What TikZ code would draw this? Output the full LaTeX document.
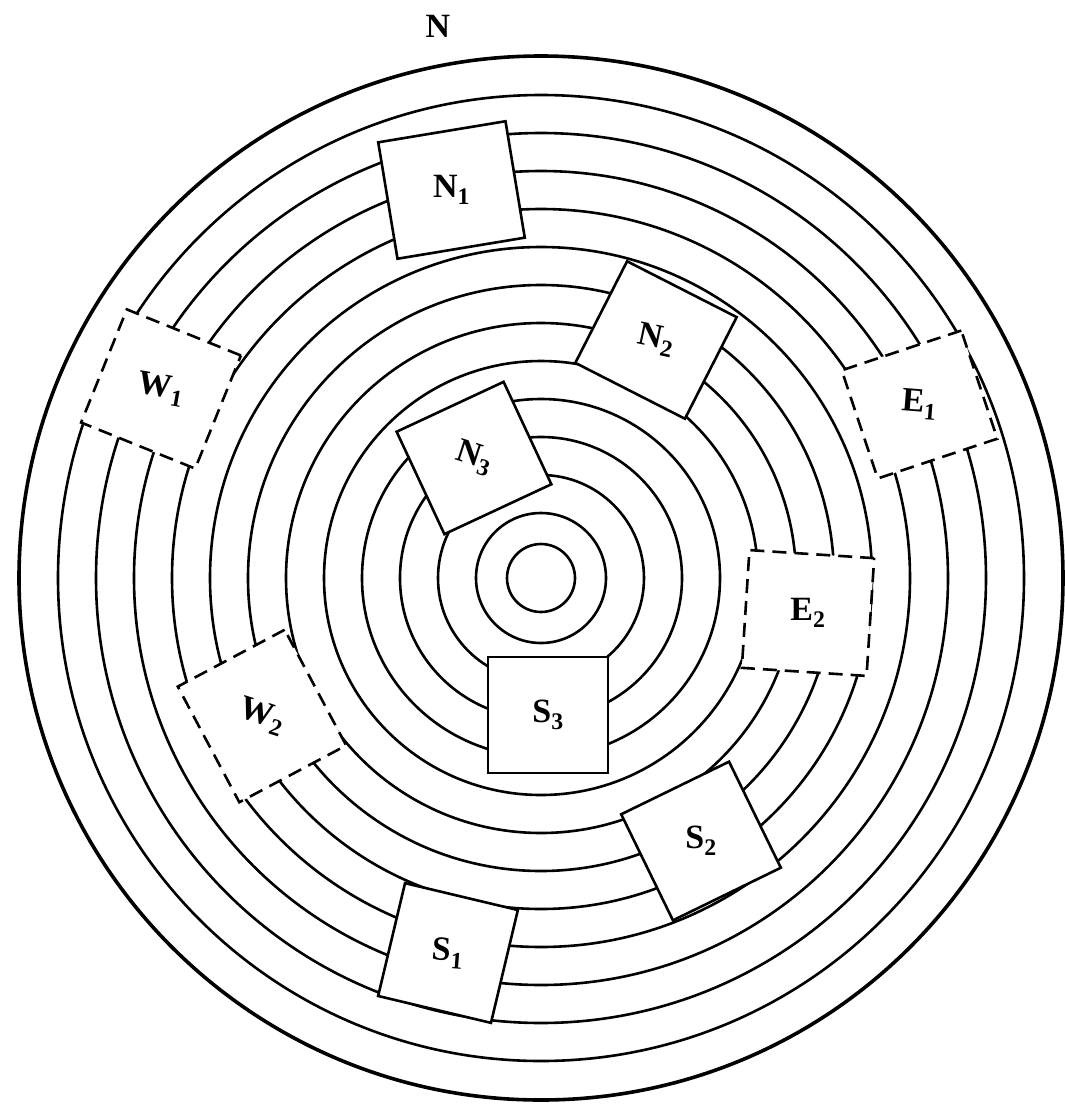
\documentclass[tikz,border=0pt]{standalone}
\usepackage{fontspec}
\setmainfont{Liberation Serif}
\begin{document}
\begin{tikzpicture}[x=1pt,y=-1pt,
  ring/.style={line width=2.6pt},
  room/.style={draw, fill=white, line width=2.6pt, inner sep=0pt, font=\fontsize{34}{34}\selectfont\bfseries},
  droom/.style={room, dash pattern=on 14pt off 8pt},
  lbl/.style={font=\fontsize{34}{34}\selectfont\bfseries}
]
\useasboundingbox (0,0) rectangle (1065,1112);
\coordinate (c) at (541,578);
\foreach \r in {34,65,103,141,179,217,255,293,331,369,407,445,483}{
  \draw[ring] (c) circle[radius=\r pt];
}
\draw[line width=3.6pt] (c) circle[radius=522pt];
% solid rooms
\node[room, minimum width=129pt, minimum height=118pt, rotate=9.4] (N1) at (451.5,190) {\rotatebox{-9.4}{N\textsubscript{1}}};
\node[room, minimum width=123pt, minimum height=114pt, rotate=-27] (N2) at (656,340) {\rotatebox{15}{N\textsubscript{2}}};
\node[room, minimum width=118pt, minimum height=113pt, rotate=25] (N3) at (474,458) {\rotatebox{-43}{N\textsubscript{3}}};
\node[room, minimum width=120pt, minimum height=116pt] (S3) at (548,715) {S\textsubscript{3}};
\node[room, minimum width=120pt, minimum height=118pt, rotate=26] (S2) at (701,841) {\rotatebox{-26}{S\textsubscript{2}}};
\node[room, minimum width=116pt, minimum height=116pt, rotate=-13.4] (S1) at (448,953) {\rotatebox{9}{S\textsubscript{1}}};
% dashed rooms
\node[droom, minimum width=123pt, minimum height=122pt, rotate=-22] (W1) at (161,389) {\rotatebox{12}{W\textsubscript{1}}};
\node[droom, minimum width=121pt, minimum height=131pt, rotate=28] (W2) at (262,716) {\rotatebox{-46}{W\textsubscript{2}}};
\node[droom, minimum width=126pt, minimum height=114pt, rotate=18.4] (E1) at (919.5,404.5) {\rotatebox{-23}{E\textsubscript{1}}};
\node[droom, minimum width=125pt, minimum height=118pt, rotate=-3.7] (E2) at (808,613) {\rotatebox{3.7}{E\textsubscript{2}}};
% north mark
\node[lbl] (north) at (438,26) {N};
\end{tikzpicture}
\end{document}
